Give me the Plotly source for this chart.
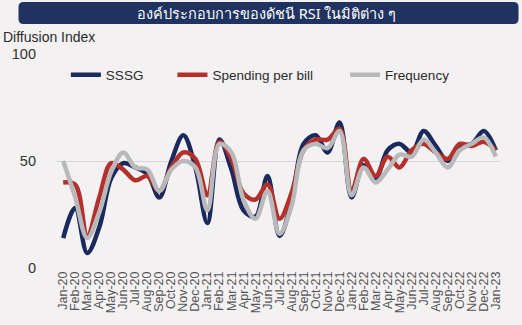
import plotly.graph_objects as go

months = ["Jan-20","Feb-20","Mar-20","Apr-20","May-20","Jun-20","Jul-20","Aug-20","Sep-20","Oct-20","Nov-20","Dec-20",
          "Jan-21","Feb-21","Mar-21","Apr-21","May-21","Jun-21","Jul-21","Aug-21","Sep-21","Oct-21","Nov-21","Dec-21",
          "Jan-22","Feb-22","Mar-22","Apr-22","May-22","Jun-22","Jul-22","Aug-22","Sep-22","Oct-22","Nov-22","Dec-22",
          "Jan-23"]
sssg = [14, 28, 7, 19, 42, 49, 47, 44, 33, 50, 62, 47, 21, 60, 46, 27, 24, 43, 15, 31,
        58, 62, 54, 68, 33, 48, 42, 55, 58, 54, 64, 57, 50, 57, 58, 64, 55]
spending = [40, 39, 15, 33, 49, 46, 41, 43, 36, 47, 54, 51, 34, 59, 51, 35, 32, 39, 23, 35,
            55, 60, 60, 65, 36, 51, 43, 52, 47, 55, 58, 54, 51, 58, 57, 59, 55]
frequency = [50, 33, 14, 26, 45, 54, 47, 46, 36, 46, 50, 47, 27, 58, 54, 32, 23, 36, 16, 29,
             55, 58, 56, 64, 34, 47, 40, 46, 53, 52, 60, 54, 47, 55, 58, 61, 52]
series_names = ["SSSG", "Spending per bill", "Frequency"]
y_ticks = [0, 50, 100]
title_text = "องค์ประกอบการของดัชนี RSI ในมิติต่าง ๆ"
y_title = "Diffusion Index"

colors = ["#1b2a5c", "#b3302b", "#b9b9bb"]
x_idx = list(range(len(months)))

fig = go.Figure()
for i, (name, vals) in enumerate(zip(series_names, [sssg, spending, frequency])):
    fig.add_trace(go.Scatter(
        x=x_idx, y=vals, name=name, mode="lines", showlegend=True,
        line=dict(color=colors[i], width=4.5, shape="spline", smoothing=1),
        legend="legend" if i == 0 else f"legend{i+1}",
    ))

W, H = 522, 325
L, R, T, B = 50, 22, 54, 57
pw, ph = W - L - R, H - T - B

def px(x):
    return (x - L) / pw

def py(y):
    return (H - B - y) / ph

leg_common = dict(orientation="h", bgcolor="rgba(0,0,0,0)", font=dict(size=13.5, color="#2b2b2b", family="Liberation Sans, Arial"),
                  xanchor="left", yanchor="middle", itemwidth=30, tracegroupgap=0)
fig.update_layout(
    width=W, height=H,
    margin=dict(l=L, r=R, t=T, b=B),
    paper_bgcolor="#f4f1f3",
    plot_bgcolor="rgba(0,0,0,0)",
    showlegend=True,
    legend=dict(x=px(60), y=py(75), **leg_common),
    legend2=dict(x=px(168), y=py(75), **leg_common),
    legend3=dict(x=px(343), y=py(75), **leg_common),
    xaxis=dict(range=[-0.6, 36.35], tickmode="array", tickvals=x_idx, ticktext=months,
               tickangle=-90, tickfont=dict(size=12.5, color="#555555", family="Liberation Sans, Arial"),
               showgrid=False, zeroline=False, showline=False, ticks=""),
    yaxis=dict(range=[0, 100], tickvals=y_ticks, showgrid=True, gridcolor="#d9d6d9", gridwidth=1,
               zeroline=False, tickfont=dict(size=14.5, color="#333333", family="Liberation Sans, Arial"),
               ticklabelstandoff=19),
    shapes=[dict(type="path", xref="paper", yref="paper", xsizemode="pixel", ysizemode="pixel",
                 xanchor=px(12), yanchor=py(2),
                 path="M 5,0 L 495,0 Q 500,0 500,-5 L 500,-17 Q 500,-22 495,-22 L 5,-22 Q 0,-22 0,-17 L 0,-5 Q 0,0 5,0 Z",
                 fillcolor="#1f3260", line=dict(width=0), layer="below")],
    annotations=[
        dict(text=title_text, xref="paper", yref="paper", x=px(263), y=py(13), xanchor="center", yanchor="middle",
             showarrow=False, font=dict(size=14.5, color="white", family="Noto Sans, Liberation Sans")),
        dict(text=y_title, xref="paper", yref="paper", x=px(-6), y=py(37), xanchor="left", yanchor="middle",
             showarrow=False, font=dict(size=14, color="#2b2b2b", family="Liberation Sans, Arial")),
    ],
)

fig.write_html("out.html")
